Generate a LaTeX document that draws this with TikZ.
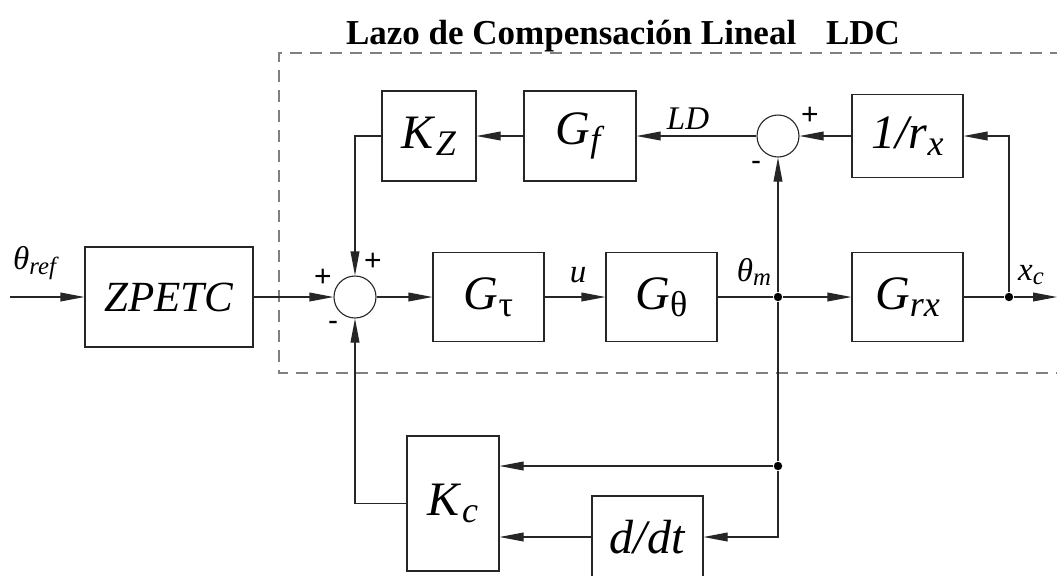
\documentclass[tikz,border=0pt]{standalone}
\usepackage{fontspec}
\setmainfont{Liberation Serif}
\setsansfont{Liberation Sans}
\usetikzlibrary{arrows.meta}
\newcommand{\sbs}[1]{\raisebox{-0.32ex}{\scalebox{0.75}{#1}}}
\begin{document}
\begin{tikzpicture}[x={(0.5pt,0pt)}, y={(0pt,-0.5pt)},
  line width=0.55pt,
  blockbox/.style={draw=black!85, rectangle, inner sep=0pt, fill=white,
    font=\fontsize{24}{24}\selectfont},
  sumnode/.style={draw=black!85, circle, inner sep=0pt, minimum size=21pt, fill=white},
  dotnode/.style={circle, fill=black, inner sep=0pt, minimum size=4.2pt},
  lbl/.style={font=\fontsize{16.5}{16.5}\selectfont, inner sep=0pt},
  sig/.style={font=\sffamily\fontsize{15}{15}\selectfont, inner sep=0pt},
  arr/.style={draw=black!85, -{Triangle[length=12pt,width=4.4pt]}},
  conn/.style={draw=black!85},
  dashbox/.style={draw=black!50, line width=1pt, dash pattern=on 6pt off 4pt}]
\useasboundingbox (0,0) rectangle (1057,575);

% dashed boundary
\draw[dashbox] (1062,53) -| (279,373) -- (1062,373);

% title
\node[font=\bfseries\fontsize{17.5}{17.5}\selectfont, inner sep=0pt] (title) at (623,36)
  {Lazo de Compensación Lineal\hspace{0.85em}LDC};

% main row
\coordinate (in) at (10,297);
\coordinate (out) at (1057,297);
\node[blockbox, minimum width=84pt, minimum height=50pt, font=\fontsize{21.5}{21.5}\selectfont] (zpetc) at (169,297) {\textit{ZPETC}};
\node[sumnode] (s1) at (355,297) {};
\node[blockbox, minimum width=55.5pt, minimum height=44.5pt] (gt) at (488.5,297) {\textit{G}\sbs{τ}};
\node[blockbox, minimum width=55.5pt, minimum height=44.5pt] (gth) at (661.5,297) {\textit{G}\sbs{θ}};
\node[dotnode] (thm) at (778,297) {};
\node[blockbox, minimum width=55.5pt, minimum height=44.5pt] (grx) at (907.5,297) {\textit{G}\sbs{\textit{rx}}};
\node[dotnode] (xc) at (1009,297) {};

% upper row
\node[blockbox, minimum width=47pt, minimum height=45pt] (kz) at (429,136) {\textit{K}\sbs{\textit{Z}}};
\node[blockbox, minimum width=56pt, minimum height=45pt] (gf) at (580,136) {\textit{G}\sbs{\textit{f}}};
\node[sumnode] (s2) at (778,136) {};
\node[blockbox, minimum width=55.5pt, minimum height=41.5pt] (rx) at (907.5,136) {\textit{1/r}\sbs{\textit{x}}};

% lower part
\node[blockbox, minimum width=46pt, minimum height=67.5pt] (kc) at (453,503.5) {\textit{K}\sbs{\textit{c}}};
\node[blockbox, minimum width=55.5pt, minimum height=41pt] (ddt) at (647.5,537) {\textit{d/dt}};
\node[dotnode] (j2) at (778,466) {};

% connectors
\draw[arr] (in) -- (zpetc.west);
\draw[arr] (zpetc.east) -- (s1.west);
\draw[arr] (s1.east) -- (gt.west);
\draw[arr] (gt.east) -- (gth.west);
\draw[conn] (gth.east) -- (thm);
\draw[arr] (thm) -- (grx.west);
\draw[conn] (grx.east) -- (xc);
\draw[arr] (xc) -- (out);
\draw[arr] (xc) |- (rx.east);
\draw[arr] (rx.west) -- (s2.east);
\draw[arr] (s2.west) -- (gf.east);
\draw[arr] (gf.west) -- (kz.east);
\draw[arr] (kz.west) -| (s1.north);
\draw[arr] (thm) -- (s2.south);
\draw[conn] (thm) -- (j2);
\draw[arr] (j2) -- (j2 -| kc.east);
\draw[arr] (j2) |- (ddt.east);
\draw[arr] (ddt.west) -- (ddt.west -| kc.east);
\draw[arr] (kc.west) -| (s1.south);

% labels
\node[lbl] (lref) at (36,263) {\textit{θ}\sbs{\textit{ref}}};
\node[lbl] (lu) at (578,275) {\textit{u}};
\node[lbl] (lthm) at (754,272) {\textit{θ}\sbs{\textit{m}}};
\node[lbl] (lxc) at (1031,275) {\textit{x}\sbs{\textit{c}}};
\node[lbl] (lld) at (688,119) {\textit{LD}};

% signs
\node[sig] (p1) at (323,278) {+};
\node[sig] (p2) at (373,262) {+};
\node[sig] (m1) at (333,326) {-};
\node[sig] (p3) at (810,116) {+};
\node[sig] (m2) at (756,166) {-};
\end{tikzpicture}
\end{document}
